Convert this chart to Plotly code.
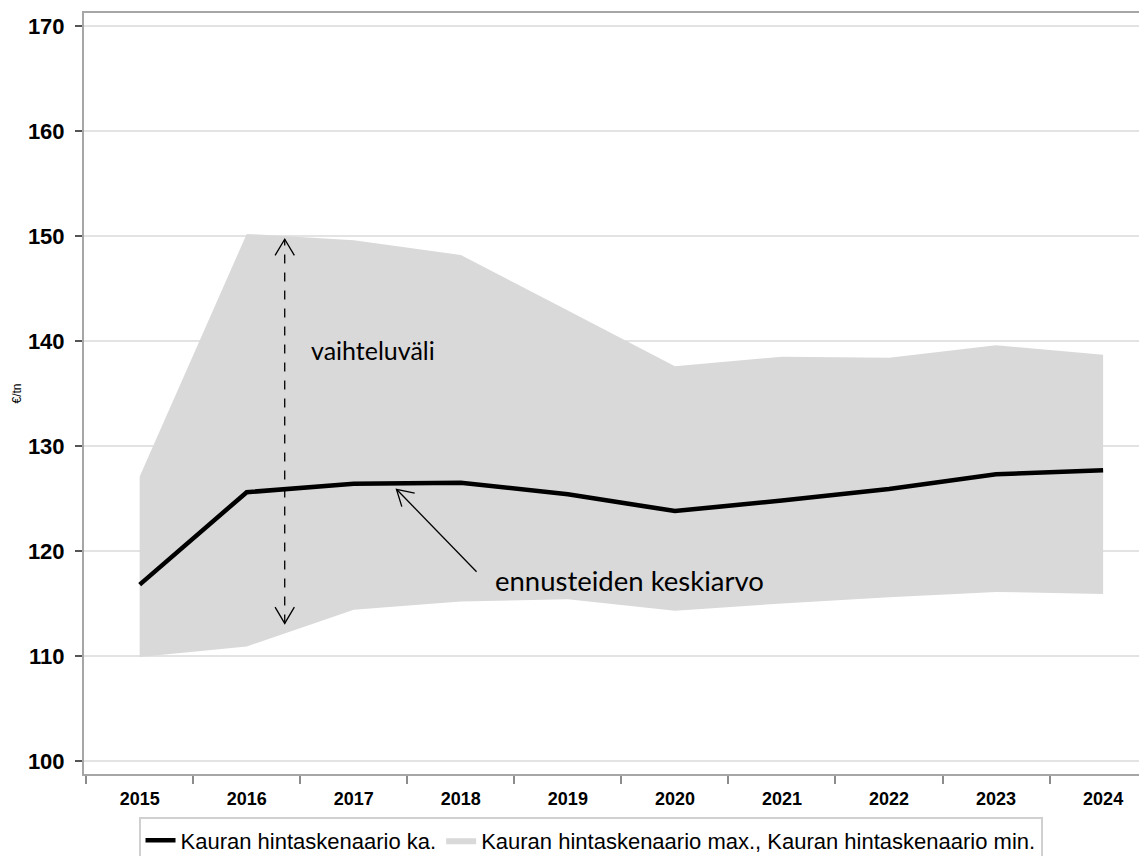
import plotly.graph_objects as go

years = ["2015", "2016", "2017", "2018", "2019", "2020", "2021", "2022", "2023", "2024"]
mean_vals = [116.8, 125.6, 126.4, 126.5, 125.4, 123.8, 124.8, 125.9, 127.3, 127.7]
max_vals = [127.1, 150.2, 149.6, 148.2, 142.9, 137.6, 138.5, 138.4, 139.6, 138.7]
min_vals = [109.9, 110.9, 114.4, 115.2, 115.4, 114.3, 115.0, 115.6, 116.1, 115.9]

name_mean = "Kauran hintaskenaario ka."
name_band = "Kauran hintaskenaario max., Kauran hintaskenaario min."

fig = go.Figure()
fig.add_trace(go.Scatter(x=years, y=min_vals, mode="lines", line=dict(width=0, color="#d9d9d9"),
                         showlegend=False, hoverinfo="skip"))
fig.add_trace(go.Scatter(x=years, y=max_vals, mode="lines", line=dict(width=0, color="#d9d9d9"),
                         fill="tonexty", fillcolor="#d9d9d9", name=name_band, legendrank=2))
fig.add_trace(go.Scatter(x=years, y=mean_vals, mode="lines", line=dict(width=4.5, color="black"),
                         name=name_mean, legendrank=1))

shapes = []
# dashed double arrow (vaihteluväli)
ax_x = 1.355
shapes.append(dict(type="line", xref="x", yref="y", x0=ax_x, x1=ax_x, y0=113.1, y1=149.7,
                   line=dict(color="black", width=1.3, dash="dash")))
dx = 0.09
shapes.append(dict(type="path", xref="x", yref="y",
                   path=f"M{ax_x-dx},{149.7-1.55} L{ax_x},{149.7} L{ax_x+dx},{149.7-1.55}",
                   line=dict(color="black", width=1.3)))
shapes.append(dict(type="path", xref="x", yref="y",
                   path=f"M{ax_x-dx},{113.1+1.55} L{ax_x},{113.1} L{ax_x+dx},{113.1+1.55}",
                   line=dict(color="black", width=1.3)))
# solid arrow to mean line
tip_x, tip_y = 2.399, 125.88
shapes.append(dict(type="line", xref="x", yref="y", x0=3.147, y0=118.03, x1=tip_x, y1=tip_y,
                   line=dict(color="black", width=1.3)))
shapes.append(dict(type="path", xref="x", yref="y",
                   path=f"M{tip_x+0.17},{tip_y-0.38} L{tip_x},{tip_y} L{tip_x+0.05},{tip_y-1.65}",
                   line=dict(color="black", width=1.3)))

annotations = [
    dict(x=1.585, y=139.1, xref="x", yref="y", text="vaihteluväli", showarrow=False,
         xanchor="left", yanchor="middle", font=dict(family="Lato", size=25, color="black")),
    dict(x=3.30, y=117.2, xref="x", yref="y", text="ennusteiden keskiarvo", showarrow=False,
         xanchor="left", yanchor="middle", font=dict(family="Lato", size=27.5, color="black")),
]

# page body has an 8px margin: figure is shifted by (8, 8)
fig.update_layout(
    width=1139, height=848,
    margin=dict(l=76, r=0, t=5, b=82, autoexpand=False),
    paper_bgcolor="white", plot_bgcolor="white",
    shapes=shapes, annotations=annotations,
    showlegend=True,
    legend=dict(orientation="h", x=0.4765, xanchor="center", y=-0.057, yanchor="top",
                xref="paper", yref="paper",
                bordercolor="#d0d0d0", borderwidth=2, bgcolor="white",
                font=dict(family="Liberation Sans, Arial", size=22, color="black"),
                itemwidth=30, tracegroupgap=0, traceorder="normal"),
    font=dict(family="Liberation Sans, Arial", color="black"),
)
fig.update_xaxes(type="category", range=[-0.52, 9.41], tickson="boundaries", ticks="outside",
                 ticklen=8, tickcolor="#8c8c8c", tickwidth=2, automargin=False,
                 showline=True, linecolor="#a6a6a6", linewidth=2, mirror=True,
                 ticklabelstandoff=7,
                 showgrid=False, tickfont=dict(family="Liberation Sans, Arial", size=18, color="black", weight="bold"))
fig.update_yaxes(range=[98.76, 171.24], tickvals=[100, 110, 120, 130, 140, 150, 160, 170],
                 ticks="outside", ticklen=7, tickcolor="#555555", tickwidth=1.5, automargin=False,
                 showline=True, linecolor="#a6a6a6", linewidth=2,
                 showgrid=True, gridcolor="#e3e3e3", gridwidth=1.5, zeroline=False,
                 ticklabelstandoff=6,
                 tickfont=dict(family="Liberation Sans, Arial", size=22, color="black", weight="bold"),
                 title=dict(text="€/tn", font=dict(family="Liberation Sans, Arial", size=12, color="black"),
                            standoff=4))

fig.write_html("out.html")
